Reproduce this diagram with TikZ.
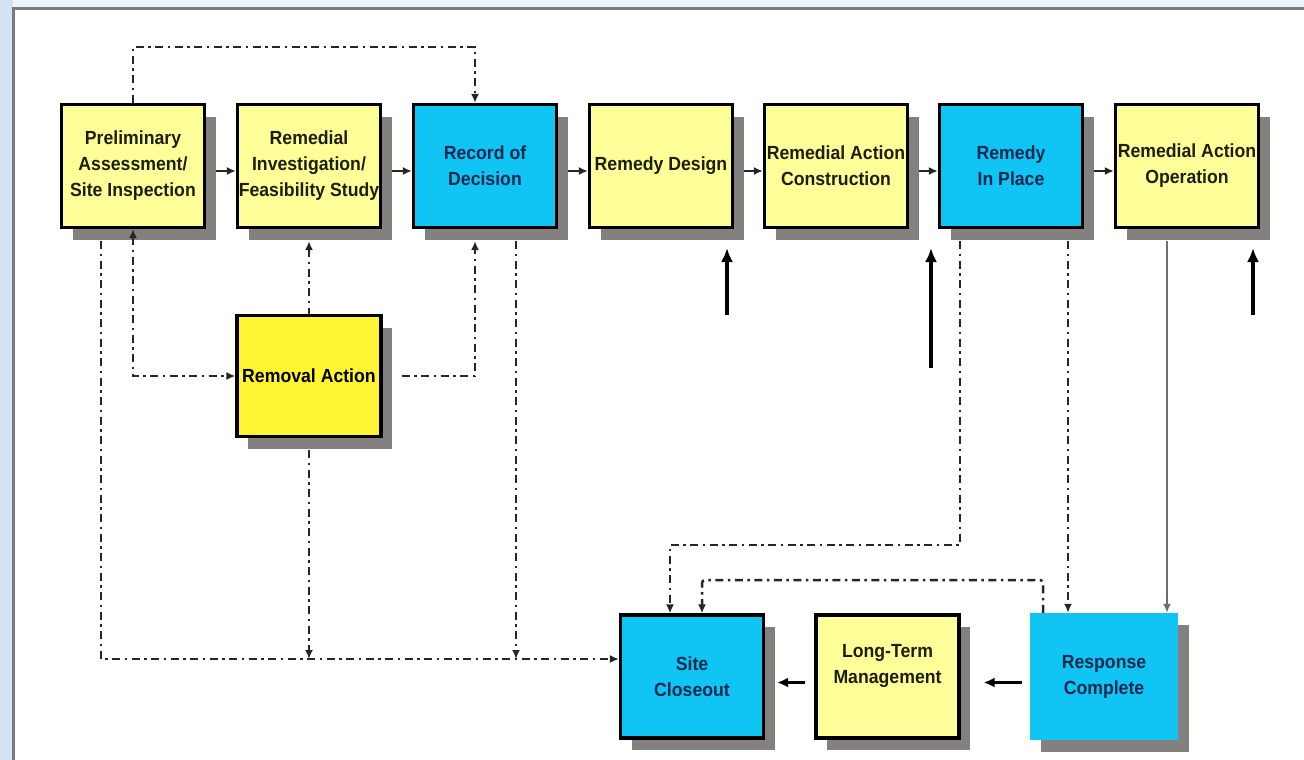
\documentclass[tikz,border=0pt]{standalone}
\usepackage{fontspec}
\setmainfont{Liberation Sans}[FakeStretch=0.93]
\usetikzlibrary{arrows.meta}
\definecolor{boxyellow}{HTML}{FFFF99}
\definecolor{rayellow}{HTML}{FFF533}
\definecolor{boxblue}{HTML}{10C4F4}
\definecolor{shadowgray}{HTML}{858080}
\definecolor{bluetext}{HTML}{0B2850}
\definecolor{yeltext}{HTML}{1E1E0C}
\definecolor{framegray}{HTML}{7A7A7A}
\definecolor{bgblue}{HTML}{D3E3F6}
\definecolor{bgtop}{HTML}{EEF3FA}
\begin{document}
\begin{tikzpicture}[x=1pt,y=-1pt,
  base/.style={minimum width=143pt, minimum height=123pt, inner sep=0pt, align=center,
    font=\fontsize{19}{26}\selectfont\bfseries,
    preaction={fill=shadowgray, transform canvas={xshift=11pt,yshift=-12pt}}},
  ybox/.style={base, draw=black, line width=3.2pt, fill=boxyellow, text=yeltext},
  bbox/.style={base, draw=black, line width=3.2pt, fill=boxblue, text=bluetext},
  dd/.style={line width=2.5pt, dash pattern=on 8pt off 4.5pt on 2.5pt off 4.5pt, black!85},
  ddarr/.style={dd, -{Latex[length=9pt,width=8pt]}},
  sarr/.style={line width=2pt, black!85, -{Latex[length=9pt,width=8pt]}},
  barr/.style={line width=3.2pt, black, -{Latex[length=14pt,width=12pt]}},
  marr/.style={line width=2.8pt, black, -{Latex[length=11pt,width=10pt]}}
]
\useasboundingbox (0,0) rectangle (1304,760);
% frame
\fill[bgtop] (0,0) rectangle (1304,760);
\fill[bgblue] (0,0) rectangle (13,760);
\fill[white] (13,9) rectangle (1304,760);
\draw[framegray, line width=3pt] (13.5,760) -- (13.5,8.5) -- (1304,8.5);

% top row
\node[ybox] (pa)  at (133,166)  {Preliminary\\Assessment/\\Site Inspection};
\node[ybox] (ri)  at (309,166)  {Remedial\\Investigation/\\Feasibility Study};
\node[bbox] (rod) at (485,166)  {Record of\\Decision};
\node[ybox] (rd)  at (661,166)  {Remedy Design};
\node[ybox] (rac) at (836,166)  {Remedial Action\\Construction};
\node[bbox] (rip) at (1011,166) {Remedy\\In Place};
\node[ybox] (rao) at (1187,166) {Remedial Action\\Operation};
% removal action
\node[ybox, fill=rayellow, text=black, minimum width=144pt, minimum height=121pt] (ra) at (309,376) {Removal Action};
% bottom row
\node[bbox] (sc)  at (692,676.5)  {Site\\Closeout};
\node[ybox] (ltm) at (887.5,676.5) {Long-Term\\Management\\\mbox{}};
\node[base, fill=boxblue, text=bluetext, minimum width=148pt, minimum height=127pt] (rc) at (1104,676.5) {Response\\Complete};

% horizontal arrows top row
\foreach \a/\b in {pa/ri, ri/rod, rod/rd, rd/rac, rac/rip, rip/rao}
  \draw[sarr] ([xshift=10pt,yshift=-5pt]\a.east) -- ([yshift=-5pt]\b.west);

% dash-dot connectors
\coordinate (top) at (133,47);
\draw[ddarr] (pa.north) -- (top) -| ([xshift=-10pt]rod.north);

\coordinate (bl) at (101,659);
\draw[ddarr] ([xshift=-32pt,yshift=-12pt]pa.south) -- (bl) -- ([yshift=17.5pt]sc.west);

\draw[dd, {Latex[length=9pt,width=8pt]}-{Latex[length=9pt,width=8pt]}] (pa.south) |- (ra.west);
\draw[dd, {Latex[length=9pt,width=8pt]}-] ([yshift=-12pt]ri.south) -- (ra.north);
\draw[ddarr] ([xshift=19pt]ra.east) -| ([xshift=-10pt,yshift=-12pt]rod.south);

\coordinate (rab) at ([yshift=-12pt]ra.south);
\draw[ddarr] (rab) -- (rab |- bl);
\coordinate (rodb) at ([xshift=31pt,yshift=-12pt]rod.south);
\draw[ddarr] (rodb) -- (rodb |- bl);

\coordinate (m1) at (960,545);
\draw[ddarr] ([xshift=-51pt,yshift=-12pt]rip.south) -- (m1) -| ([xshift=-22pt]sc.north);
\draw[ddarr] ([xshift=57pt,yshift=-12pt]rip.south) -- ([xshift=-36pt]rc.north);
\coordinate (m2) at (1043,580);
\draw[ddarr, rounded corners=3pt] ([xshift=-61pt]rc.north) -- (m2) -| ([xshift=10pt]sc.north);

% gray solid
\draw[line width=2pt, shadowgray!85!black, -{Latex[length=9pt,width=8pt]}] ([xshift=-20pt,yshift=-12pt]rao.south) -- ([xshift=63pt]rc.north);

% bottom arrows
\draw[marr] ([xshift=-9pt,yshift=-6pt]ltm.west) -- ([xshift=12pt,yshift=-6pt]sc.east);
\draw[marr] ([xshift=-8pt,yshift=-6pt]rc.west) -- ([xshift=23pt,yshift=-6pt]ltm.east);

% free up arrows
\coordinate (u1s) at (727,315);  \coordinate (u1e) at (727,248);
\coordinate (u2s) at (931,368);  \coordinate (u2e) at (931,248);
\coordinate (u3s) at (1253,315); \coordinate (u3e) at (1253,248);
\draw[barr] (u1s) -- (u1e);
\draw[barr] (u2s) -- (u2e);
\draw[barr] (u3s) -- (u3e);
\end{tikzpicture}
\end{document}
